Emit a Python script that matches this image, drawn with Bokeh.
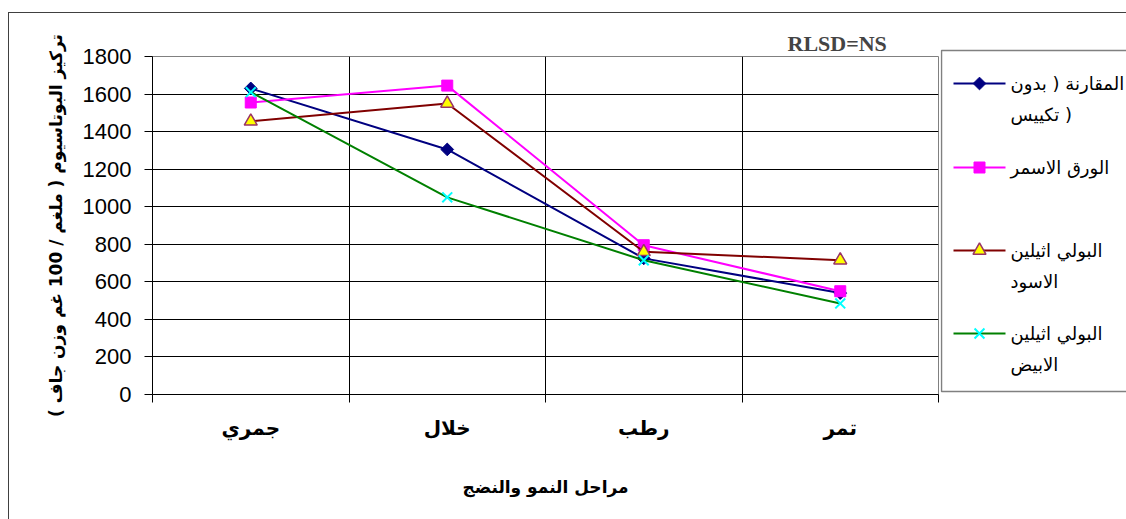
import math
from bokeh.plotting import figure
from bokeh.models import Range1d, FixedTicker
from bokeh.layouts import row
from bokeh.embed import file_html
from bokeh.resources import INLINE
from bokeh.core.properties import value

# ---------------- data ----------------
categories = ["جمري", "خلال", "رطب", "تمر"]
series_labels = [
    "المقارنة ( بدون\nتكييس )",
    "الورق الاسمر",
    "البولي اثيلين\nالاسود",
    "البولي اثيلين\nالابيض",
]
control = [1630, 1305, 725, 540]
brown_paper = [1555, 1645, 795, 550]
black_pe = [1455, 1550, 760, 715]
white_pe = [1610, 1050, 715, 485]
y_ticks = [0, 200, 400, 600, 800, 1000, 1200, 1400, 1600, 1800]
title_text = "RLSD=NS"
y_label = "تركيز البوتاسيوم ( ملغم / 100 غم وزن جاف )"
x_label = "مراحل النمو والنضج"

series_values = [control, brown_paper, black_pe, white_pe]
styles = [
    dict(line="#000080", marker="square", angle=math.pi / 4, size=9, fill="#000080", mline="#000080", mwidth=1),
    dict(line="#FF00FF", marker="square", angle=0, size=11, fill="#FF00FF", mline="#FF00FF", mwidth=1),
    dict(line="#800000", marker="triangle", angle=0, size=13, fill="#FFFF00", mline="#993366", mwidth=1.5),
    dict(line="#008000", marker="x", angle=0, size=14, fill="#00FFFF", mline="#00FFFF", mwidth=2),
]

ARABIC = "DejaVu Sans"

# ---------------- main chart ----------------
n = len(categories)
centers = [i + 0.5 for i in range(n)]
bounds = [float(i) for i in range(n + 1)]

H = 506
p = figure(width=931, height=H, output_backend="svg", toolbar_location=None,
           x_range=Range1d(0, n), y_range=Range1d(0, 1800),
           min_border_left=143, min_border_right=2, min_border_top=43, min_border_bottom=H - 43 - 338)
p.outline_line_color = "#808080"
p.background_fill_color = "white"
p.border_fill_color = "white"

p.title.text = title_text
p.title.text_font = "Liberation Serif"
p.title.text_font_style = "bold"
p.title.text_font_size = "22px"
p.title.align = "left"
p.title.offset = 635
p.title.standoff = 2

xa = p.xaxis[0]
xa.ticker = FixedTicker(ticks=centers, minor_ticks=bounds)
xa.major_label_overrides = {c: lab for c, lab in zip(centers, categories)}
xa.major_tick_out = 0
xa.major_tick_in = 0
xa.minor_tick_out = 8
xa.minor_tick_in = 0
xa.minor_tick_line_color = "black"
xa.axis_line_color = "black"
xa.major_label_text_font = ARABIC
xa.major_label_text_font_style = "bold"
xa.major_label_text_font_size = "20px"
xa.major_label_text_color = "black"
xa.major_label_standoff = 13
xa.axis_label = x_label
xa.axis_label_text_font = ARABIC
xa.axis_label_text_font_style = "bold"
xa.axis_label_text_font_size = "17px"
xa.axis_label_text_color = "black"
xa.axis_label_standoff = 34

ya = p.yaxis[0]
ya.ticker = FixedTicker(ticks=y_ticks, minor_ticks=[])
ya.major_tick_out = 8
ya.major_tick_in = 0
ya.major_tick_line_color = "black"
ya.axis_line_color = "black"
ya.major_label_text_font = "Liberation Sans"
ya.major_label_text_font_size = "22px"
ya.major_label_text_color = "black"
ya.major_label_standoff = 13
ya.axis_label = y_label
ya.axis_label_text_font = ARABIC
ya.axis_label_text_font_style = "bold"
ya.axis_label_text_font_size = "17px"
ya.axis_label_text_color = "black"
ya.axis_label_standoff = 14

p.xgrid.grid_line_color = None
p.xgrid.minor_grid_line_color = "black"
p.xgrid.minor_grid_line_width = 1
p.ygrid.grid_line_color = "black"
p.ygrid.grid_line_width = 1

for vals, st in zip(series_values, styles):
    p.line(centers, vals, line_color=st["line"], line_width=2)
    p.scatter(centers, vals, marker=st["marker"], size=st["size"], angle=st["angle"],
              fill_color=st["fill"], line_color=st["mline"], line_width=st["mwidth"])

# ---------------- legend panel ----------------
LX0, LX1 = 940, 1126
TOP = 13
p2 = figure(width=LX1 - LX0, height=H, output_backend="svg", toolbar_location=None,
            x_range=Range1d(LX0, LX1), y_range=Range1d(TOP + H, TOP),
            x_axis_type=None, y_axis_type=None,
            min_border=0, min_border_left=0, min_border_right=0,
            min_border_top=0, min_border_bottom=0)
p2.frame_align = False
p2.outline_line_color = None
p2.background_fill_color = "white"
p2.border_fill_color = "white"

p2.quad(left=[941], right=[1140], top=[50], bottom=[391],
        fill_alpha=0, line_color="#808080", line_width=1.5)

item_y = [83, 167, 250, 333]
line_gap = 31
for lab, st, yy in zip(series_labels, styles, item_y):
    p2.line([953, 1005], [yy, yy], line_color=st["line"], line_width=2)
    p2.scatter([979], [yy], marker=st["marker"], size=st["size"], angle=st["angle"],
               fill_color=st["fill"], line_color=st["mline"], line_width=st["mwidth"])
    parts = lab.split("\n")
    p2.text(x=[1010] * len(parts), y=[yy + k * line_gap for k in range(len(parts))],
            text=parts, text_font=value(ARABIC), text_font_size="18px",
            text_align="left", text_baseline="middle", text_color="black")

layout = row(p, p2, margin=(12, 0, 0, 8),
             styles={"border-top": "1px solid #404040", "border-left": "1px solid #404040"})

open("out.html", "w").write(file_html(layout, INLINE))
